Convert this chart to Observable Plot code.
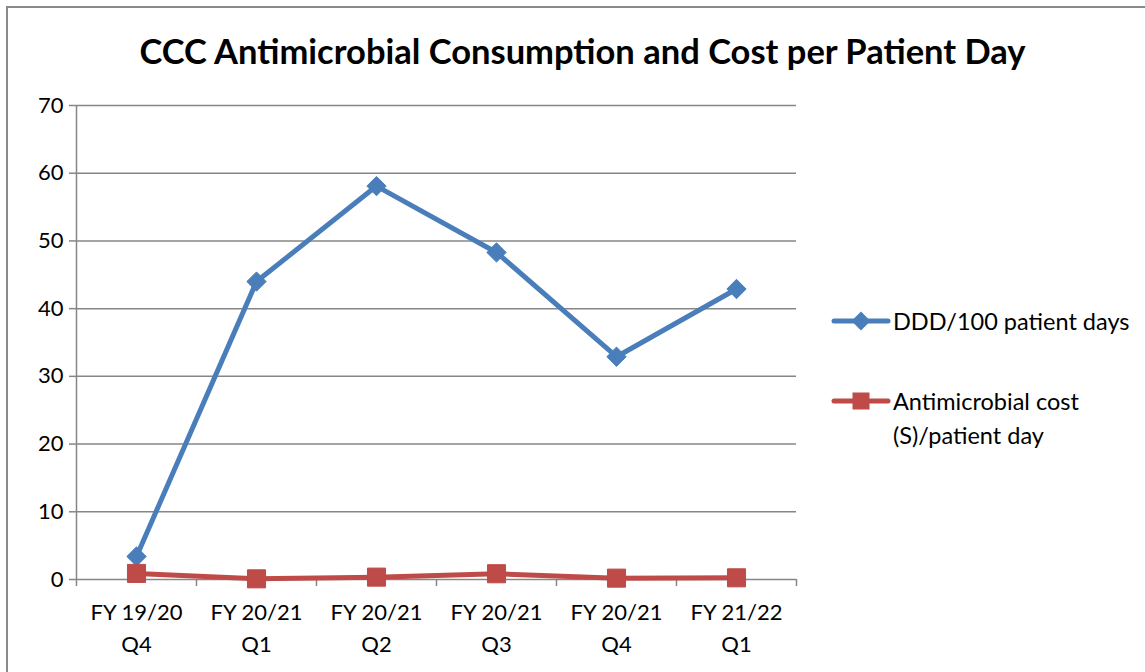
<!DOCTYPE html>
<html>
<head>
<meta charset="utf-8">
<script src="https://cdn.jsdelivr.net/npm/d3@7"></script>
<script src="https://cdn.jsdelivr.net/npm/@observablehq/plot@0.6"></script>
<style>
  html, body { margin: 0; padding: 0; background: #fff; }
  #wrap { position: relative; width: 1145px; height: 672px; overflow: hidden; font-family: Lato, "Open Sans", sans-serif; }
  #frame { position: absolute; left: 6px; top: 6px; width: 1200px; height: 720px; border-left: 2px solid #8a8a8a; border-top: 2px solid #8a8a8a; }
  #title { position: absolute; left: 0; width: 1165px; top: 30px; text-align: center; font-weight: bold; font-size: 34.5px; color: #000; white-space: nowrap; }
  #chart { position: absolute; left: 0; top: 0; }
  .leg { position: absolute; font-size: 23.5px; color: #000; line-height: 34px; white-space: nowrap; }
</style>
</head>
<body>
<div id="wrap">
  <div id="frame"></div>
  <div id="chart"></div>
  <div id="title"></div>
  <div id="legend"></div>
</div>
<script>
const title = "CCC Antimicrobial Consumption and Cost per Patient Day";
const categories = ["FY 19/20\nQ4", "FY 20/21\nQ1", "FY 20/21\nQ2", "FY 20/21\nQ3", "FY 20/21\nQ4", "FY 21/22\nQ1"];
const seriesNames = ["DDD/100 patient days", "Antimicrobial cost (S)/patient day"];
const dddValues = [3.4, 44, 58.1, 48.3, 32.9, 42.9];
const costValues = [0.9, 0.1, 0.35, 0.85, 0.2, 0.25];
const yTicks = [0, 10, 20, 30, 40, 50, 60, 70];
const colors = ["#4a7ebb", "#be4b48"];

const rows = [];
categories.forEach((c, i) => {
  rows.push({idx: i, cat: c, series: seriesNames[0], value: dddValues[i]});
  rows.push({idx: i, cat: c, series: seriesNames[1], value: costValues[i]});
});
const ddd = rows.filter(d => d.series === seriesNames[0]);
const cost = rows.filter(d => d.series === seriesNames[1]);
const boundaries = d3.range(categories.length + 1).map(i => i - 0.5);
const gray = "#868686";

document.getElementById("title").textContent = title;

const chart = Plot.plot({
  width: 1145,
  height: 672,
  marginLeft: 76,
  marginRight: 349,
  marginTop: 105,
  marginBottom: 93,
  style: {fontFamily: "Lato, 'Open Sans', sans-serif", fontSize: "22px", color: "#000", background: "transparent"},
  x: {type: "linear", domain: [-0.5, categories.length - 0.5], axis: null},
  y: {domain: [0, 70], axis: null},
  marks: [
    Plot.ruleY(yTicks, {stroke: gray, strokeWidth: 1.5, strokeOpacity: 1}),
    Plot.ruleX([-0.5], {stroke: gray, strokeWidth: 1.5, strokeOpacity: 1}),
    Plot.axisY({ticks: yTicks, label: null, tickSize: 7, tickPadding: 6, stroke: gray, strokeWidth: 1.5, strokeOpacity: 1, fontSize: 22, fill: "#000"}),
    Plot.axisX({ticks: boundaries, label: null, tickSize: 7, tickFormat: () => "", stroke: gray, strokeWidth: 1.5, strokeOpacity: 1}),
    Plot.text(categories, {x: (d, i) => i, y: 0, text: d => d, lineAnchor: "top", dy: 18, lineHeight: 1.45, fontSize: 22, fill: "#000"}),
    Plot.line(ddd, {x: "idx", y: "value", stroke: colors[0], strokeWidth: 5}),
    Plot.dot(ddd, {x: "idx", y: "value", symbol: "diamond2", r: 8.7, fill: colors[0], stroke: colors[0], strokeWidth: 1}),
    Plot.line(cost, {x: "idx", y: "value", stroke: colors[1], strokeWidth: 5}),
    Plot.dot(cost, {x: "idx", y: "value", symbol: "square", r: 10.2, fill: colors[1], stroke: colors[1], strokeWidth: 1})
  ]
});
document.getElementById("chart").appendChild(chart);

// Legend
const legend = document.getElementById("legend");
const legItems = [
  {name: seriesNames[0], lines: ["DDD/100 patient days"], color: colors[0], symbol: "diamond", top: 304},
  {name: seriesNames[1], lines: ["Antimicrobial cost", "(S)/patient day"], color: colors[1], symbol: "square", top: 384}
];
legItems.forEach(it => {
  const sw = document.createElementNS("http://www.w3.org/2000/svg", "svg");
  sw.setAttribute("width", 60); sw.setAttribute("height", 24);
  sw.style.position = "absolute"; sw.style.left = "831px"; sw.style.top = (it.top + 5) + "px";
  const ln = document.createElementNS(sw.namespaceURI, "line");
  ln.setAttribute("x1", 3); ln.setAttribute("x2", 57); ln.setAttribute("y1", 12); ln.setAttribute("y2", 12);
  ln.setAttribute("stroke", it.color); ln.setAttribute("stroke-width", 5); ln.setAttribute("stroke-linecap", "round");
  sw.appendChild(ln);
  if (it.symbol === "diamond") {
    const p = document.createElementNS(sw.namespaceURI, "path");
    p.setAttribute("d", "M30,2.5 L39.5,12 L30,21.5 L20.5,12 Z"); p.setAttribute("fill", it.color);
    sw.appendChild(p);
  } else {
    const r = document.createElementNS(sw.namespaceURI, "rect");
    r.setAttribute("x", 21.5); r.setAttribute("y", 3.5); r.setAttribute("width", 17); r.setAttribute("height", 17);
    r.setAttribute("fill", it.color);
    sw.appendChild(r);
  }
  legend.appendChild(sw);
  const t = document.createElement("div");
  t.className = "leg";
  t.style.left = "893px"; t.style.top = it.top + "px";
  t.innerHTML = it.lines.join("<br>");
  legend.appendChild(t);
});
</script>
</body>
</html>
